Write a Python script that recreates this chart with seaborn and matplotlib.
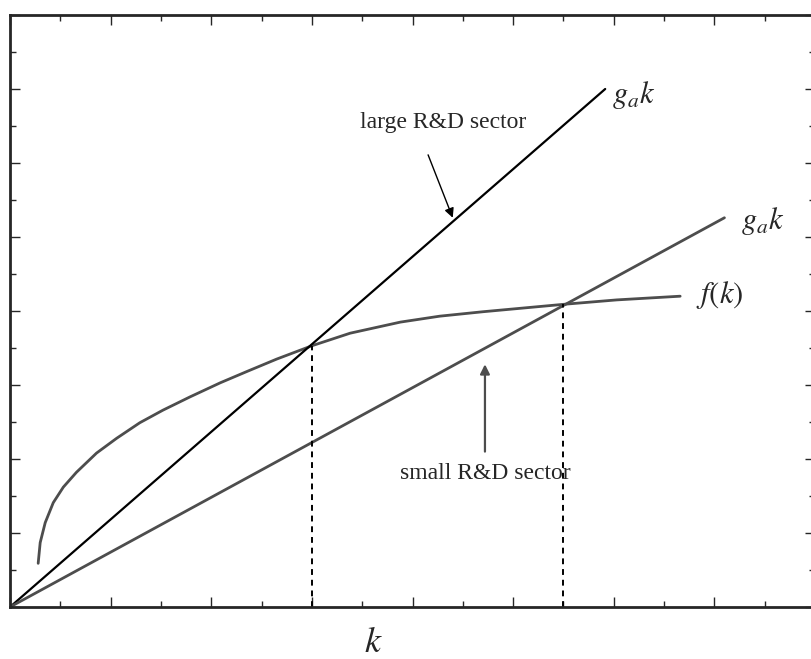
import numpy as np
import pandas as pd
import seaborn as sns
import matplotlib.pyplot as plt
from matplotlib.ticker import MultipleLocator

# Production function f(k)
k_f = [0.28, 0.30, 0.35, 0.43, 0.53, 0.66, 0.86, 1.06, 1.29, 1.52, 1.79, 2.09, 2.35, 2.65,
       3.00, 3.38, 3.88, 4.27, 4.70, 5.14, 5.50, 6.03, 6.66]
f_k = [0.59, 0.87, 1.14, 1.41, 1.62, 1.82, 2.08, 2.28, 2.49, 2.66, 2.84, 3.03, 3.18, 3.35,
       3.53, 3.70, 3.85, 3.93, 3.99, 4.045, 4.09, 4.15, 4.20]

# g_a k rays (start and end points)
k_large = [0.0, 5.915]
g_large = [0.0, 7.0]
k_small = [0.0, 7.10]
g_small = [0.0, 5.26]

# steady states (dashed drops)
k_star = [3.0, 5.5]
f_star = [3.53, 4.09]

sns.set_style("ticks")
plt.rcParams["font.family"] = ["Liberation Serif", "DejaVu Serif"]
plt.rcParams["mathtext.fontset"] = "stix"

fig = plt.figure(figsize=(8.11, 6.59), dpi=100)
ax = fig.add_axes([10 / 811, 1 - 607 / 659, 805 / 811, 592 / 659])

gray = "#4d4d4d"
curve = pd.DataFrame({"k": k_f, "f": f_k})
sns.lineplot(data=curve, x="k", y="f", ax=ax, color=gray, lw=2.0, sort=False)
sns.lineplot(x=k_large, y=g_large, ax=ax, color="black", lw=1.6)
sns.lineplot(x=k_small, y=g_small, ax=ax, color=gray, lw=2.0)

for ks, fs in zip(k_star, f_star):
    ax.plot([ks, ks], [0, fs], color="black", lw=1.4, ls=(0, (3, 2.5)))

ax.set_xlim(0, 8)
ax.set_ylim(0, 8)
ax.xaxis.set_major_locator(MultipleLocator(1))
ax.xaxis.set_minor_locator(MultipleLocator(0.5))
ax.yaxis.set_major_locator(MultipleLocator(1))
ax.yaxis.set_minor_locator(MultipleLocator(0.5))
ax.tick_params(which="both", direction="in", top=True, right=True,
               labelbottom=False, labelleft=False, width=1.0)
ax.tick_params(which="major", length=7)
ax.tick_params(which="minor", length=4.5)
for s in ax.spines.values():
    s.set_linewidth(2.0)
ax.set_ylabel("")

ax.set_xlabel("$k$", fontsize=26)
ax.xaxis.set_label_coords(0.451, -0.034)

# curve labels
ax.text(5.98, 6.92, "$g_a k$", fontsize=22, va="center", ha="left")
ax.text(7.26, 5.22, "$g_a k$", fontsize=22, va="center", ha="left")
ax.text(6.82, 4.21, "$f(k)$", fontsize=22, va="center", ha="left")

# sector annotations
ax.text(4.30, 6.40, "large R&D sector", ha="center", va="bottom", fontsize=17)
ax.annotate("", xy=(4.40, 5.26), xytext=(4.155, 6.11),
            arrowprops=dict(arrowstyle="-|>", color="black", lw=1.0,
                            mutation_scale=14, shrinkA=0, shrinkB=0))
ax.text(4.72, 1.95, "small R&D sector", ha="center", va="top", fontsize=17)
ax.annotate("", xy=(4.72, 3.28), xytext=(4.72, 2.10),
            arrowprops=dict(arrowstyle="-|>", color=gray, lw=1.6,
                            mutation_scale=14, shrinkA=0, shrinkB=0))

fig.savefig("out.png", dpi=100)
